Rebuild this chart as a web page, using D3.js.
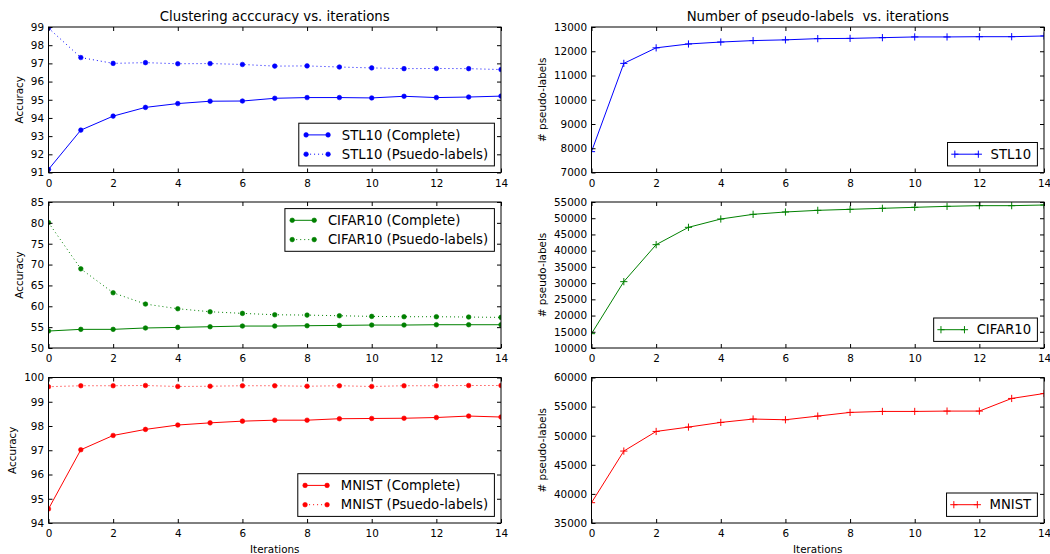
<!DOCTYPE html>
<html>
<head>
<meta charset="utf-8">
<script src="https://cdn.jsdelivr.net/npm/d3@7"></script>
<style>
  html, body { margin: 0; padding: 0; background: #fff; }
  svg { display: block; font-family: "DejaVu Sans", sans-serif; }
</style>
</head>
<body>
<svg id="chart" width="1050" height="554"></svg>
<script>
// ---------------- data ----------------
const iterations = [0, 1, 2, 3, 4, 5, 6, 7, 8, 9, 10, 11, 12, 13, 14];
const xTicks = [0, 2, 4, 6, 8, 10, 12, 14];

const stl10Complete = [91.17, 93.33, 94.10, 94.58, 94.79, 94.92, 94.93, 95.08, 95.12, 95.12, 95.10, 95.19, 95.12, 95.15, 95.20];
const stl10Pseudo   = [98.94, 97.32, 97.00, 97.04, 96.98, 96.99, 96.94, 96.85, 96.86, 96.80, 96.75, 96.71, 96.72, 96.71, 96.66];
const cifarComplete = [54.07, 54.47, 54.47, 54.80, 54.94, 55.10, 55.26, 55.26, 55.34, 55.42, 55.50, 55.50, 55.58, 55.58, 55.58];
const cifarPseudo   = [80.06, 68.98, 63.24, 60.53, 59.41, 58.69, 58.30, 57.97, 57.89, 57.73, 57.58, 57.50, 57.50, 57.42, 57.34];
const mnistComplete = [94.58, 97.02, 97.61, 97.86, 98.04, 98.13, 98.20, 98.24, 98.24, 98.30, 98.31, 98.32, 98.35, 98.41, 98.37];
const mnistPseudo   = [99.62, 99.66, 99.66, 99.67, 99.63, 99.64, 99.66, 99.66, 99.64, 99.66, 99.63, 99.66, 99.66, 99.67, 99.67];

const stl10Count = [7860, 11500, 12140, 12300, 12380, 12440, 12470, 12520, 12530, 12560, 12590, 12590, 12600, 12600, 12630];
const cifarCount = [14420, 30450, 41850, 47190, 49760, 51200, 51920, 52430, 52740, 53050, 53360, 53660, 53870, 53870, 54080];
const mnistCount = [38490, 47360, 50730, 51480, 52280, 52860, 52740, 53370, 54000, 54170, 54170, 54230, 54230, 56400, 57250];

const stl10AccTicks = [91, 92, 93, 94, 95, 96, 97, 98, 99];
const cifarAccTicks = [50, 55, 60, 65, 70, 75, 80, 85];
const mnistAccTicks = [94, 95, 96, 97, 98, 99, 100];
const stl10CountTicks = [7000, 8000, 9000, 10000, 11000, 12000, 13000];
const cifarCountTicks = [10000, 15000, 20000, 25000, 30000, 35000, 40000, 45000, 50000, 55000];
const mnistCountTicks = [35000, 40000, 45000, 50000, 55000, 60000];

const titles = ["Clustering acccuracy vs. iterations", "Number of pseudo-labels  vs. iterations"];
const yLabels = ["Accuracy", "# pseudo-labels"];
const xLabel = "Iterations";

// ---------------- layout ----------------
const cols = [[48.5, 501], [591.5, 1044]];
const rows = [[27, 172.5], [202, 348], [377.5, 523]];
const TICK_FS = 10.4, LEG_FS = 13.2, TITLE_FS = 13.3;

const panels = [
  { col: 0, row: 0, ticks: stl10AccTicks, legendLoc: "lower right", series: [
      { label: "STL10 (Complete)", values: stl10Complete, color: "#0000ff", dash: null, marker: "dot" },
      { label: "STL10 (Psuedo-labels)", values: stl10Pseudo, color: "#0000ff", dash: "1,3", marker: "dot" } ] },
  { col: 0, row: 1, ticks: cifarAccTicks, legendLoc: "upper right", series: [
      { label: "CIFAR10 (Complete)", values: cifarComplete, color: "#008000", dash: null, marker: "dot" },
      { label: "CIFAR10 (Psuedo-labels)", values: cifarPseudo, color: "#008000", dash: "1,3", marker: "dot" } ] },
  { col: 0, row: 2, ticks: mnistAccTicks, legendLoc: "lower right", series: [
      { label: "MNIST (Complete)", values: mnistComplete, color: "#ff0000", dash: null, marker: "dot" },
      { label: "MNIST (Psuedo-labels)", values: mnistPseudo, color: "#ff0000", dash: "1,3", marker: "dot" } ] },
  { col: 1, row: 0, ticks: stl10CountTicks, legendLoc: "lower right", series: [
      { label: "STL10", values: stl10Count, color: "#0000ff", dash: null, marker: "plus" } ] },
  { col: 1, row: 1, ticks: cifarCountTicks, legendLoc: "lower right", series: [
      { label: "CIFAR10", values: cifarCount, color: "#008000", dash: null, marker: "plus" } ] },
  { col: 1, row: 2, ticks: mnistCountTicks, legendLoc: "lower right", series: [
      { label: "MNIST", values: mnistCount, color: "#ff0000", dash: null, marker: "plus" } ] }
];

const svg = d3.select("#chart");
const defs = svg.append("defs");

function drawMarker(sel, type, color) {
  if (type === "dot") {
    sel.append("circle").attr("r", 2.3).attr("fill", color).attr("stroke", color).attr("stroke-width", 0.6);
  } else {
    sel.append("path").attr("d", "M-3.6,0H3.6M0,-3.6V3.6").attr("stroke", color).attr("stroke-width", 1).attr("fill", "none");
  }
}

panels.forEach((p, i) => {
  const [x0, x1] = cols[p.col];
  const [y0, y1] = rows[p.row];
  const x = d3.scaleLinear().domain([0, 14]).range([x0, x1]);
  const y = d3.scaleLinear().domain([p.ticks[0], p.ticks[p.ticks.length - 1]]).range([y1, y0]);
  const g = svg.append("g");

  defs.append("clipPath").attr("id", "clip" + i)
    .append("rect").attr("x", x0).attr("y", y0).attr("width", x1 - x0).attr("height", y1 - y0);

  // series
  const plot = g.append("g").attr("clip-path", `url(#clip${i})`);
  p.series.forEach(s => {
    const pts = iterations.map((it, k) => [it, s.values[k]]);
    plot.append("path")
      .attr("d", d3.line().x(d => x(d[0])).y(d => y(d[1]))(pts))
      .attr("fill", "none").attr("stroke", s.color).attr("stroke-width", 1)
      .attr("stroke-dasharray", s.dash);
    plot.selectAll(null).data(pts).enter().append("g")
      .attr("transform", d => `translate(${x(d[0])},${y(d[1])})`)
      .each(function () { drawMarker(d3.select(this), s.marker, s.color); });
  });

  // axes (ticks inward, on all four sides)
  const tickLen = 4;
  const bottom = d3.axisBottom(x).tickValues(xTicks).tickSize(-tickLen).tickPadding(7).tickFormat(d3.format("d"));
  const top = d3.axisTop(x).tickValues(xTicks).tickSize(-tickLen).tickFormat("");
  const left = d3.axisLeft(y).tickValues(p.ticks).tickSize(-tickLen).tickPadding(4.5).tickFormat(d3.format("d"));
  const right = d3.axisRight(y).tickValues(p.ticks).tickSize(-tickLen).tickFormat("");

  const axB = g.append("g").attr("transform", `translate(0,${y1})`).call(bottom);
  const axT = g.append("g").attr("transform", `translate(0,${y0})`).call(top);
  const axL = g.append("g").attr("transform", `translate(${x0},0)`).call(left);
  const axR = g.append("g").attr("transform", `translate(${x1},0)`).call(right);
  [axB, axT, axL, axR].forEach(a => {
    a.select(".domain").remove();
    a.selectAll("line").attr("stroke", "#000").attr("stroke-width", 1);
    a.selectAll("text").attr("fill", "#000").style("font-size", TICK_FS + "px").style("font-family", "DejaVu Sans");
  });

  // frame
  g.append("rect").attr("x", x0).attr("y", y0).attr("width", x1 - x0).attr("height", y1 - y0)
    .attr("fill", "none").attr("stroke", "#000").attr("stroke-width", 1);

  // y label
  let maxW = 0;
  axL.selectAll("text").each(function () { maxW = Math.max(maxW, this.getComputedTextLength()); });
  const ylx = x0 - 4.5 - maxW - 11.5;
  g.append("text").attr("transform", `translate(${ylx},${(y0 + y1) / 2}) rotate(-90)`)
    .attr("text-anchor", "middle").attr("dy", "0.35em")
    .style("font-size", TICK_FS + "px").text(yLabels[p.col]);

  // x label on bottom row
  if (p.row === 2) {
    g.append("text").attr("x", (x0 + x1) / 2).attr("y", 549).attr("dy", "0.35em")
      .attr("text-anchor", "middle").style("font-size", TICK_FS + "px").text(xLabel);
  }
  // title on top row
  if (p.row === 0) {
    g.append("text").attr("x", (x0 + x1) / 2).attr("y", 16).attr("dy", "0.35em")
      .attr("text-anchor", "middle").style("font-size", TITLE_FS + "px")
      .style("white-space", "pre").attr("xml:space", "preserve").text(titles[p.col]);
  }

  // legend
  const lg = g.append("g");
  const texts = p.series.map(s => lg.append("text").style("font-size", LEG_FS + "px").attr("dy", "0.35em").text(s.label));
  let tw = 0;
  texts.forEach(t => { tw = Math.max(tw, t.node().getComputedTextLength()); });
  const textOff = 43;
  const boxW = textOff + tw + 6.3;
  const rowGap = 19.3;
  const boxH = 23.4 + (p.series.length - 1) * rowGap;
  const bx = x1 - 6.6 - boxW;
  const by = p.legendLoc === "upper right" ? y0 + 6.6 : y1 - 6.6 - boxH;
  lg.insert("rect", ":first-child").attr("x", bx).attr("y", by).attr("width", boxW).attr("height", boxH)
    .attr("fill", "#fff").attr("stroke", "#000").attr("stroke-width", 1);
  p.series.forEach((s, k) => {
    const cy = by + 11.7 + k * rowGap;
    const hx0 = bx + 7.3, hx1 = bx + (s.marker === "plus" ? 30.8 : 29.3);
    lg.append("line").attr("x1", hx0).attr("x2", hx1).attr("y1", cy).attr("y2", cy)
      .attr("stroke", s.color).attr("stroke-width", 1).attr("stroke-dasharray", s.dash);
    [hx0, hx1].forEach(hx => {
      const m = lg.append("g").attr("transform", `translate(${hx},${cy})`);
      drawMarker(m, s.marker, s.color);
    });
    texts[k].attr("x", bx + textOff).attr("y", cy);
  });
});
</script>
</body>
</html>
